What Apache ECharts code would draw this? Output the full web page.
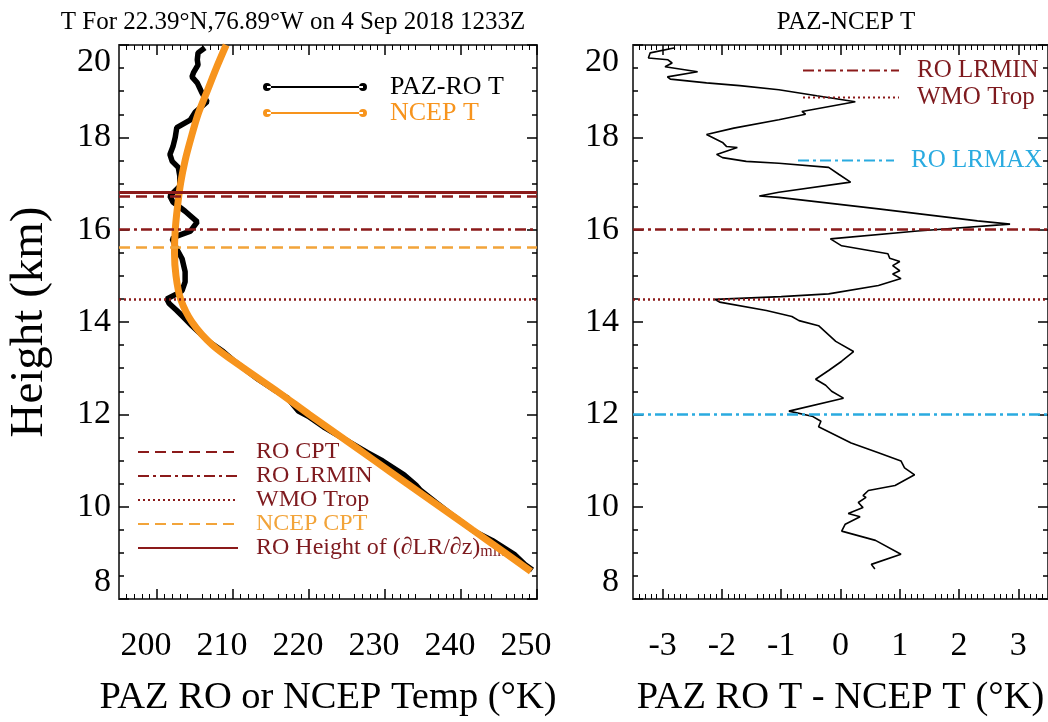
<!DOCTYPE html>
<html>
<head>
<meta charset="utf-8">
<title>PAZ RO vs NCEP T</title>
<script src="https://cdn.jsdelivr.net/npm/echarts@6/dist/echarts.min.js"></script>
<style>
  html, body { margin: 0; padding: 0; background: #fff; }
  #chart { width: 1048px; height: 722px; }
</style>
</head>
<body>
<div id="chart"></div>
<script>
// PAZ-RO 温度廓线 (K)，高度 km
const pazHeight = [19.94, 19.83, 19.68, 19.57, 19.40, 19.31, 19.18, 18.97, 18.77, 18.54, 18.38, 18.21, 18.00, 17.80, 17.63, 17.48, 17.35, 17.16, 16.94, 16.73, 16.60, 16.40, 16.17, 15.97, 15.86, 15.80, 15.58, 15.37, 15.09, 14.87, 14.68, 14.61, 14.50, 14.40, 14.25, 14.12, 13.92, 13.58, 13.36, 13.15, 12.76, 12.50, 12.35, 12.07, 11.96, 11.73, 11.38, 11.17, 10.99, 10.69, 10.46, 10.35, 10.09, 9.85, 9.62, 9.47, 9.27, 8.97, 8.75, 8.63];
const pazTemp = [206.3, 205.4, 205.3, 205.4, 204.8, 204.6, 205.3, 205.9, 206.6, 205.0, 204.4, 202.6, 202.4, 202.1, 201.7, 202.0, 202.8, 203.0, 203.0, 201.7, 202.1, 203.7, 205.3, 204.4, 202.6, 202.0, 202.6, 203.3, 203.7, 203.7, 203.3, 202.6, 201.3, 201.6, 202.6, 203.4, 204.6, 206.8, 208.7, 210.2, 213.3, 215.7, 217.2, 218.6, 219.9, 221.9, 225.5, 227.7, 229.7, 232.5, 234.1, 234.7, 236.7, 238.6, 240.5, 241.7, 244.1, 247.0, 248.4, 249.4];

// NCEP 温度廓线
const ncepHeight = [20.0, 19.5, 19.0, 18.5, 18.0, 17.5, 17.0, 16.5, 16.0, 15.5, 15.0, 14.5, 14.0, 13.5, 13.0, 12.5, 12.0, 11.5, 11.0, 10.5, 10.0, 9.5, 9.0, 8.6];
const ncepTemp = [209.1, 207.8, 206.6, 205.4, 204.5, 203.7, 203.1, 202.7, 202.4, 202.3, 202.5, 203.1, 204.6, 207.3, 211.4, 215.8, 220.0, 224.3, 228.6, 232.9, 237.2, 241.5, 245.8, 249.2];

// PAZ - NCEP 差值
const diffHeight = [19.94, 19.83, 19.72, 19.68, 19.61, 19.53, 19.42, 19.31, 19.26, 19.18, 19.12, 19.03, 18.90, 18.77, 18.56, 18.50, 18.38, 18.20, 18.06, 17.89, 17.80, 17.78, 17.63, 17.56, 17.48, 17.44, 17.35, 17.20, 17.03, 16.81, 16.73, 16.70, 16.45, 16.19, 16.12, 15.97, 15.80, 15.65, 15.48, 15.38, 15.31, 15.22, 15.11, 15.04, 14.94, 14.79, 14.61, 14.55, 14.49, 14.43, 14.25, 14.12, 14.03, 13.92, 13.58, 13.36, 13.15, 12.95, 12.76, 12.63, 12.50, 12.35, 12.07, 11.96, 11.85, 11.73, 11.38, 11.17, 10.99, 10.84, 10.69, 10.46, 10.35, 10.24, 10.20, 10.09, 9.98, 9.85, 9.78, 9.62, 9.47, 9.27, 8.97, 8.75, 8.65];
const diffValue = [-2.79, -3.21, -3.24, -2.91, -2.84, -2.96, -2.41, -2.92, -2.87, -2.26, -1.70, -1.04, -0.40, 0.25, -0.65, -0.59, -1.04, -1.80, -2.26, -1.99, -1.92, -1.74, -2.09, -1.99, -1.59, -1.04, -0.20, -0.03, 0.17, -1.04, -1.37, -1.04, 0.64, 2.31, 2.86, 1.30, -0.17, 0.02, 0.80, 0.83, 1.00, 0.88, 1.00, 0.88, 1.02, 0.64, -0.20, -1.00, -2.12, -2.04, -1.25, -0.82, -0.70, -0.37, -0.08, 0.22, 0.02, -0.20, -0.42, -0.25, -0.15, 0.05, -0.87, -0.48, -0.33, -0.37, 0.18, 0.64, 1.02, 1.08, 1.25, 0.92, 0.47, 0.38, 0.43, 0.30, 0.38, 0.13, 0.33, 0.08, 0.02, 0.59, 1.02, 0.52, 0.58];

// 特征高度 (km)
const roCpt = 16.73;
const roLrmin = 16.0;
const wmoTrop = 14.49;
const ncepCpt = 15.62;
const roDlrMin = 16.80;
const roLrmax = 12.0;

// 刻度
const tempTicks = [200, 210, 220, 230, 240, 250];
const diffTicks = [-3, -2, -1, 0, 1, 2, 3];

const FONT = 'Liberation Serif';
const DARKRED = '#8b1a1a';
const REDTEXT = '#7e1a1e';
const ORANGE = '#f7941d';
const ORANGE2 = '#f2a43a';
const BLUE = '#2aabe0';

const zip = (xs, ys) => xs.map((x, i) => [x, ys[i]]);

// 水平参考线（markLine）
function hLine(name, val, style, gi) {
  return {
    name, type: 'line', data: [], xAxisIndex: gi * 2, yAxisIndex: gi * 2,
    symbol: 'none', color: style.color, lineStyle: style, silent: true,
    markLine: { silent: true, symbol: ['none', 'none'], label: { show: false }, lineStyle: style, emphasis: { disabled: true }, data: [{ yAxis: val }] },
  };
}

const dashed = { color: DARKRED, type: [11, 6], width: 2.5 };
const dashdot = { color: DARKRED, type: [11, 4, 3, 4], width: 2.5 };
const dotted = { color: DARKRED, type: [2, 3], width: 2.5 };
const orDashed = { color: ORANGE2, type: [11, 6], width: 2.5 };
const solid = { color: DARKRED, type: 'solid', width: 3 };
const blueDashdot = { color: BLUE, type: [11, 4, 3, 4], width: 2.5 };

const dotLine = 'path://M0,4a4,4 0 1,0 8,0a4,4 0 1,0 -8,0zM4,3h96v2h-96zM96,4a4,4 0 1,0 8,0a4,4 0 1,0 -8,0z';

function xAxisPair(gi, min, max, interval, ticks, name, labelPad) {
  const common = {
    gridIndex: gi, type: 'value', min, max, interval,
    axisLine: { onZero: false, lineStyle: { color: '#444', width: 2 } },
    axisTick: { inside: true, length: 10, customValues: ticks, lineStyle: { color: '#000', width: 1.5 } },
    minorTick: { show: true, splitNumber: 5, length: 5, lineStyle: { color: '#000', width: 1 } },
    splitLine: { show: false },
  };
  return [
    Object.assign({}, common, {
      position: 'bottom',
      axisLabel: { customValues: ticks, fontFamily: FONT, fontSize: 34, color: '#000', margin: 30, padding: labelPad },
      name, nameLocation: 'middle', nameGap: 79,
      nameTextStyle: { fontFamily: FONT, fontSize: 38.5, color: '#000' },
    }),
    Object.assign({}, common, { position: 'top', axisLabel: { show: false } }),
  ];
}

function yAxisPair(gi, margin, name) {
  const common = {
    gridIndex: gi, type: 'value', min: 8, max: 20, interval: 2,
    axisLine: { onZero: false, lineStyle: { color: '#444', width: 2 } },
    axisTick: { inside: true, length: 10, lineStyle: { color: '#000', width: 1.5 } },
    minorTick: { show: true, splitNumber: 4, length: 5, lineStyle: { color: '#000', width: 1.5 } },
    splitLine: { show: false },
  };
  return [
    Object.assign({}, common, {
      position: 'left',
      axisLabel: { fontFamily: FONT, fontSize: 34, color: '#000', margin, verticalAlignMinLabel: 'bottom', verticalAlignMaxLabel: 'top' },
      name, nameLocation: 'middle', nameGap: 66,
      nameTextStyle: { fontFamily: FONT, fontSize: 47, color: '#000' },
    }),
    Object.assign({}, common, { position: 'right', axisLabel: { show: false } }),
  ];
}

// 图例文字：前面加一个占位块拉开与图标的距离
const legendText = (gap, color, size, lh) => ({
  fontFamily: FONT, fontSize: size, lineHeight: lh, color,
  rich: {
    p: { width: gap },
    a: { fontFamily: FONT, fontSize: size, lineHeight: lh, color },
    s: { fontFamily: FONT, fontSize: 16, lineHeight: lh, color, verticalAlign: 'bottom' },
  },
});

const chart = echarts.init(document.getElementById('chart'));

chart.setOption({
  animation: false,
  backgroundColor: '#fff',
  title: [
    { text: 'T For 22.39°N,76.89°W on 4 Sep 2018 1233Z', left: 288, top: 5, textAlign: 'center', textStyle: { fontFamily: FONT, fontSize: 25, fontWeight: 'normal', color: '#000' } },
    { text: 'PAZ-NCEP T', left: 841, top: 5, textAlign: 'center', textStyle: { fontFamily: FONT, fontSize: 25, fontWeight: 'normal', color: '#000' } },
  ],
  grid: [
    { left: 119, top: 45, width: 418, height: 557 },
    { left: 633, top: 45, width: 419, height: 557 },
  ],
  xAxis: [
    ...xAxisPair(0, 195, 250, 5, tempTicks, 'PAZ RO or NCEP Temp (°K)', [0, 22, 0, 0]),
    ...xAxisPair(1, -3.5, 3.5, 0.5, diffTicks, 'PAZ RO T - NCEP T (°K)', 0),
  ],
  yAxis: [
    ...yAxisPair(0, 8, 'Height (km)'),
    ...yAxisPair(1, 14, ''),
  ],
  legend: [
    {
      left: 258, top: 69, orient: 'vertical', itemWidth: 104, itemHeight: 8, itemGap: 0,
      textStyle: legendText(18, '#000', 26, 21),
      formatter: n => '{p|}{a|' + n + '}',
      data: [
        { name: 'PAZ-RO T', icon: dotLine, textStyle: legendText(18, '#000', 26, 21) },
        { name: 'NCEP T', icon: dotLine, textStyle: legendText(18, ORANGE, 26, 21) },
      ],
    },
    {
      left: 132, top: 435, orient: 'vertical', itemWidth: 100, itemHeight: 12, itemGap: 0,
      itemStyle: { opacity: 0 },
      textStyle: legendText(13, REDTEXT, 24, 23),
      formatter: n => n.indexOf('RO Height') === 0 ? '{p|}{a|RO Height of (∂LR/∂z)}{s|min}' : '{p|}{a|' + n + '}',
      data: [
        { name: 'RO CPT' },
        { name: 'RO LRMIN' },
        { name: 'WMO Trop' },
        { name: 'NCEP CPT', textStyle: legendText(13, ORANGE2, 24, 23) },
        { name: 'RO Height of (∂LR/∂z)min' },
      ],
    },
    {
      left: 797, top: 52, orient: 'vertical', itemWidth: 96, itemHeight: 12, itemGap: 0,
      itemStyle: { opacity: 0 },
      textStyle: legendText(13, REDTEXT, 25, 27),
      formatter: n => '{p|}{a|' + n + '}',
      data: ['RO LRMIN', 'WMO Trop'],
    },
    {
      left: 792, top: 142, orient: 'vertical', itemWidth: 96, itemHeight: 12, itemGap: 0,
      itemStyle: { opacity: 0 },
      textStyle: legendText(12, BLUE, 25, 27),
      formatter: n => '{p|}{a|' + n + '}',
      data: ['RO LRMAX'],
    },
  ],
  series: [
    hLine('RO Height of (∂LR/∂z)min', roDlrMin, solid, 0),
    hLine('RO CPT', roCpt, dashed, 0),
    hLine('RO LRMIN', roLrmin, dashdot, 0),
    hLine('WMO Trop', wmoTrop, dotted, 0),
    hLine('NCEP CPT', ncepCpt, orDashed, 0),
    {
      name: 'PAZ-RO T', type: 'line', xAxisIndex: 0, yAxisIndex: 0,
      data: zip(pazTemp, pazHeight), symbol: 'none', color: '#000',
      lineStyle: { color: '#000', width: 5.5 }, z: 3,
    },
    {
      name: 'NCEP T', type: 'line', xAxisIndex: 0, yAxisIndex: 0, smooth: 0.3,
      data: zip(ncepTemp, ncepHeight), symbol: 'none', color: ORANGE,
      lineStyle: { color: ORANGE, width: 7 }, z: 4,
    },
    hLine('RO LRMIN', roLrmin, dashdot, 1),
    hLine('WMO Trop', wmoTrop, dotted, 1),
    hLine('RO LRMAX', roLrmax, blueDashdot, 1),
    {
      name: 'PAZ-NCEP', type: 'line', xAxisIndex: 2, yAxisIndex: 2,
      data: zip(diffValue, diffHeight), symbol: 'none', color: '#000',
      lineStyle: { color: '#000', width: 1.6 }, z: 3,
    },
  ],
});

window.addEventListener('resize', () => chart.resize());
</script>
</body>
</html>
